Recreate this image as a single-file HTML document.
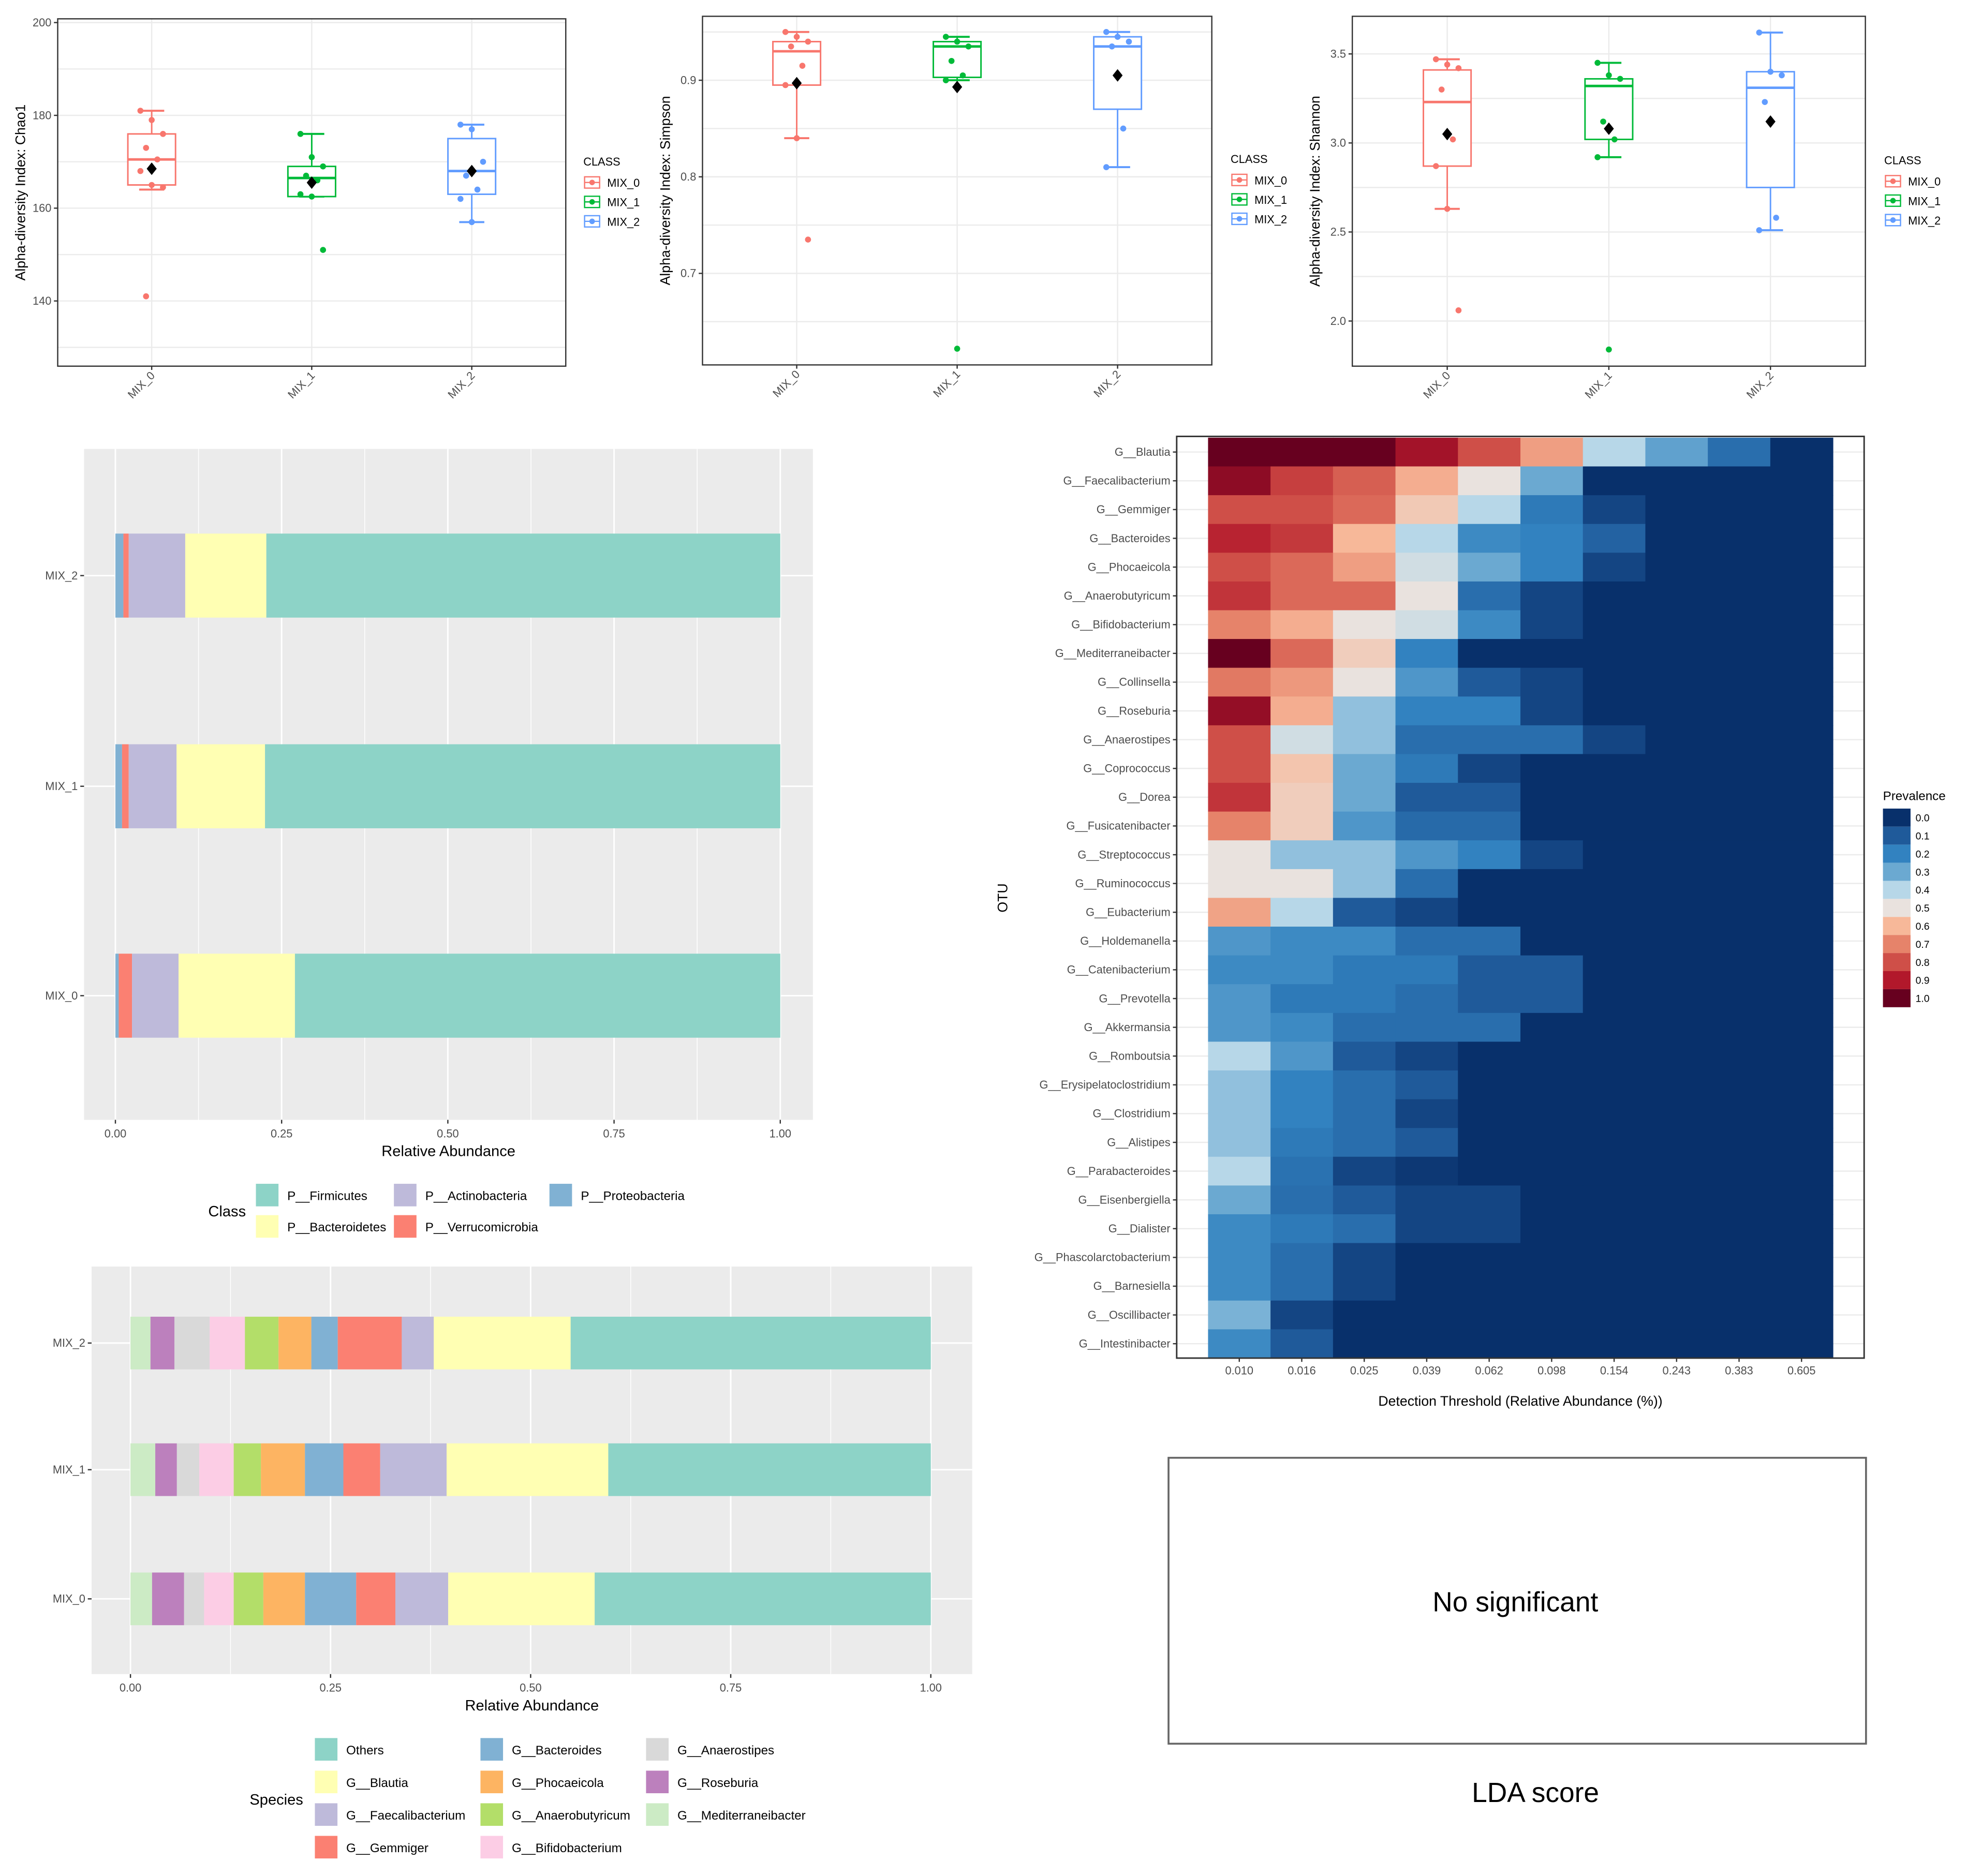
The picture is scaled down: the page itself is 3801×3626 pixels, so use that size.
<!DOCTYPE html>
<html><head><meta charset="utf-8">
<style>
html,body{margin:0;padding:0;background:#fff;}
svg{display:block;font-family:"Liberation Sans",Arial,sans-serif;}
</style></head>
<body>
<svg id="root" xmlns="http://www.w3.org/2000/svg" width="3801" height="3626" viewBox="0 0 1568 1496" preserveAspectRatio="none">
<rect x="0" y="0" width="1568" height="1496" fill="#fff"/>
</svg>
<script>
// ---------- DATA ----------
const groups = ["MIX_0","MIX_1","MIX_2"];
const groupColors = ["#F8766D","#00BA38","#619CFF"];
// [lowWhisker, q1, median, q3, highWhisker, mean]
const chao1Stats = [[164,165,170.5,176,181,168.5],[162.5,162.5,166.5,169,176,165.5],[157,163,168,175,178,168]];
const chao1Points = [[181,179,176,173,170.5,168,165,164.5,141],[176,171,169,167,166,163,162.5,151],[178,177,170,167,164,162,157]];
const chao1Ticks = [140,160,180,200];
const simpsonStats = [[0.84,0.895,0.93,0.94,0.95,0.897],[0.90,0.903,0.935,0.94,0.945,0.893],[0.81,0.87,0.935,0.945,0.95,0.905]];
const simpsonPoints = [[0.95,0.945,0.94,0.935,0.915,0.895,0.84,0.735],[0.945,0.94,0.935,0.92,0.905,0.9,0.622],[0.95,0.945,0.94,0.935,0.85,0.81]];
const simpsonTicks = [0.7,0.8,0.9];
const shannonStats = [[2.63,2.87,3.23,3.41,3.47,3.05],[2.92,3.02,3.32,3.36,3.45,3.08],[2.51,2.75,3.31,3.40,3.62,3.12]];
const shannonPoints = [[3.47,3.44,3.42,3.3,3.02,2.87,2.63,2.06],[3.45,3.38,3.36,3.12,3.02,2.92,1.84],[3.62,3.4,3.38,3.23,2.58,2.51]];
const shannonTicks = [2.0,2.5,3.0,3.5];

const barGroups = ["MIX_0","MIX_1","MIX_2"];
const phylumNames = ["P__Proteobacteria","P__Verrucomicrobia","P__Actinobacteria","P__Bacteroidetes","P__Firmicutes"];
const phylumColors = ["#80B1D3","#FB8072","#BEBADA","#FFFFB3","#8DD3C7"];
const phylumValues = [[0.005,0.02,0.07,0.175,0.73],[0.01,0.01,0.072,0.133,0.775],[0.012,0.008,0.085,0.122,0.773]];
const abundTicks = [0,0.25,0.5,0.75,1];
const abundTickLabels = ["0.00","0.25","0.50","0.75","1.00"];

const speciesNames = ["G__Mediterraneibacter","G__Roseburia","G__Anaerostipes","G__Bifidobacterium","G__Anaerobutyricum","G__Phocaeicola","G__Bacteroides","G__Gemmiger","G__Faecalibacterium","G__Blautia","Others"];
const speciesColors = ["#CCEBC5","#BC80BD","#D9D9D9","#FCCDE5","#B3DE69","#FDB462","#80B1D3","#FB8072","#BEBADA","#FFFFB3","#8DD3C7"];
const speciesValues = [
 [0.027,0.040,0.025,0.037,0.037,0.052,0.064,0.049,0.066,0.183,0.42],
 [0.031,0.027,0.028,0.043,0.034,0.055,0.048,0.046,0.083,0.202,0.403],
 [0.025,0.030,0.044,0.044,0.042,0.041,0.033,0.080,0.040,0.171,0.45]];

const otuNames = ["G__Blautia","G__Faecalibacterium","G__Gemmiger","G__Bacteroides","G__Phocaeicola","G__Anaerobutyricum","G__Bifidobacterium","G__Mediterraneibacter","G__Collinsella","G__Roseburia","G__Anaerostipes","G__Coprococcus","G__Dorea","G__Fusicatenibacter","G__Streptococcus","G__Ruminococcus","G__Eubacterium","G__Holdemanella","G__Catenibacterium","G__Prevotella","G__Akkermansia","G__Romboutsia","G__Erysipelatoclostridium","G__Clostridium","G__Alistipes","G__Parabacteroides","G__Eisenbergiella","G__Dialister","G__Phascolarctobacterium","G__Barnesiella","G__Oscillibacter","G__Intestinibacter"];
const thresholdLabels = ["0.010","0.016","0.025","0.039","0.062","0.098","0.154","0.243","0.383","0.605"];
const prevalence = [
 [1,1,1,0.92,0.8,0.65,0.4,0.28,0.15,0],
 [0.95,0.83,0.77,0.62,0.5,0.3,0,0,0,0],
 [0.8,0.8,0.75,0.56,0.4,0.18,0.05,0,0,0],
 [0.88,0.84,0.6,0.4,0.22,0.2,0.12,0,0,0],
 [0.8,0.75,0.65,0.45,0.3,0.2,0.05,0,0,0],
 [0.85,0.75,0.75,0.5,0.15,0.05,0,0,0,0],
 [0.7,0.62,0.5,0.45,0.22,0.05,0,0,0,0],
 [1,0.75,0.55,0.2,0,0,0,0,0,0],
 [0.72,0.66,0.5,0.25,0.1,0.05,0,0,0,0],
 [0.94,0.62,0.35,0.2,0.2,0.05,0,0,0,0],
 [0.8,0.45,0.35,0.15,0.15,0.15,0.05,0,0,0],
 [0.8,0.57,0.3,0.18,0.05,0,0,0,0,0],
 [0.85,0.55,0.3,0.1,0.1,0,0,0,0,0],
 [0.7,0.55,0.25,0.14,0.14,0,0,0,0,0],
 [0.5,0.35,0.35,0.25,0.2,0.05,0,0,0,0],
 [0.5,0.5,0.35,0.15,0,0,0,0,0,0],
 [0.64,0.4,0.1,0.05,0,0,0,0,0,0],
 [0.25,0.22,0.22,0.15,0.15,0,0,0,0,0],
 [0.22,0.22,0.18,0.18,0.1,0.1,0,0,0,0],
 [0.25,0.18,0.18,0.15,0.1,0.1,0,0,0,0],
 [0.25,0.22,0.15,0.15,0.15,0,0,0,0,0],
 [0.4,0.25,0.1,0.05,0,0,0,0,0,0],
 [0.35,0.2,0.15,0.1,0,0,0,0,0,0],
 [0.35,0.2,0.15,0.05,0,0,0,0,0,0],
 [0.35,0.18,0.15,0.1,0,0,0,0,0,0],
 [0.4,0.16,0.05,0.02,0,0,0,0,0,0],
 [0.3,0.15,0.1,0.05,0.05,0,0,0,0,0],
 [0.22,0.18,0.15,0.05,0.05,0,0,0,0,0],
 [0.22,0.15,0.05,0,0,0,0,0,0,0],
 [0.22,0.15,0.05,0,0,0,0,0,0,0],
 [0.32,0.05,0,0,0,0,0,0,0,0],
 [0.22,0.1,0,0,0,0,0,0,0,0]];
const prevTicks = [0,0.1,0.2,0.3,0.4,0.5,0.6,0.7,0.8,0.9,1.0];

// ---------- HELPERS ----------
const NS = "http://www.w3.org/2000/svg";
const root = document.getElementById('root');
function mk(tag, attrs, parent, text){
  const e = document.createElementNS(NS, tag);
  for (const k in attrs) e.setAttribute(k, attrs[k]);
  if (text !== undefined) e.textContent = text;
  (parent || root).appendChild(e);
  return e;
}
function lin(d0,d1,r0,r1){ return v => r0 + (v-d0)/(d1-d0)*(r1-r0); }
const stops = ["#08306B","#1F5A9A","#3282C0","#6BA9D1","#B7D7E8","#E9E2DE","#F7B899","#E6836A","#CF4F48","#B2182B","#67001F"];
function hex2rgb(h){ return [parseInt(h.substr(1,2),16),parseInt(h.substr(3,2),16),parseInt(h.substr(5,2),16)]; }
function prevColor(v){
  v = Math.max(0, Math.min(1, v));
  const t = v*10, i = Math.min(9, Math.floor(t)), f = t - i;
  const a = hex2rgb(stops[i]), b = hex2rgb(stops[i+1]);
  return "rgb(" + a.map((c,k)=>Math.round(c+(b[k]-c)*f)).join(",") + ")";
}

// ---------- BOX PLOTS ----------
function boxPanel(cfg){
  const g = mk('g', {});
  
  
  const y = lin(cfg.ref[0], cfg.ref[1], cfg.ref[2], cfg.ref[3]);
  const xs = [cfg.x0 + (cfg.x1-cfg.x0)*0.185, cfg.x0 + (cfg.x1-cfg.x0)*0.5, cfg.x0 + (cfg.x1-cfg.x0)*0.815];
  mk('rect', {x:cfg.x0, y:cfg.y0, width:cfg.x1-cfg.x0, height:cfg.y1-cfg.y0, fill:'#fff'}, g);
  // grid: major + minor
  const step = cfg.ticks[1]-cfg.ticks[0];
  for (let v = cfg.ticks[0]-step*2; v <= cfg.ticks[cfg.ticks.length-1]+step*2; v += step/2){
    const yy = y(v);
    if (yy < cfg.y0+1 || yy > cfg.y1-1) continue;
    const gl = mk('line', {x1:cfg.x0, x2:cfg.x1, y1:yy, y2:yy, stroke:'#ebebeb', 'stroke-width':1}, g);
    
  }
  xs.forEach(xx => mk('line', {x1:xx, x2:xx, y1:cfg.y0, y2:cfg.y1, stroke:'#ebebeb', 'stroke-width':1}, g));
  // boxes
  cfg.stats.forEach((s, i) => {
    const c = groupColors[i], cx = xs[i], w = 38;
    const bg = mk('g', {}, g);
    
    
    mk('line', {x1:cx, x2:cx, y1:y(s[0]), y2:y(s[4]), stroke:c, 'stroke-width':1.2}, bg);
    mk('line', {x1:cx-10, x2:cx+10, y1:y(s[0]), y2:y(s[0]), stroke:c, 'stroke-width':1.6}, bg);
    mk('line', {x1:cx-10, x2:cx+10, y1:y(s[4]), y2:y(s[4]), stroke:c, 'stroke-width':1.6}, bg);
    mk('rect', {x:cx-w/2, y:y(s[3]), width:w, height:y(s[1])-y(s[3]), fill:'#fff', stroke:c, 'stroke-width':1.2}, bg);
    mk('line', {x1:cx-w/2, x2:cx+w/2, y1:y(s[2]), y2:y(s[2]), stroke:c, 'stroke-width':2}, bg);
    cfg.points[i].forEach((p, j) => {
      const off = ((j*7) % 5 - 2) * 4.5;
      const pt = mk('circle', {cx:cx+off, cy:y(p), r:2.4, fill:c}, bg);
      
    });
    const m = y(s[5]);
    const mean = mk('path', {d:`M${cx} ${m-5}L${cx+4} ${m}L${cx} ${m+5}L${cx-4} ${m}Z`, fill:'#000'}, bg);
    
  });
  mk('rect', {x:cfg.x0, y:cfg.y0, width:cfg.x1-cfg.x0, height:cfg.y1-cfg.y0, fill:'none', stroke:'#333', 'stroke-width':1}, g);
  // y ticks
  cfg.ticks.forEach(v => {
    const yy = y(v);
    mk('line', {x1:cfg.x0-3, x2:cfg.x0, y1:yy, y2:yy, stroke:'#333'}, g);
    const t = mk('text', {x:cfg.x0-5, y:yy+3, 'font-size':9, fill:'#4d4d4d', 'text-anchor':'end'}, g, cfg.fmt(v));
    
  });
  // x ticks
  xs.forEach((xx, i) => {
    mk('line', {x1:xx, x2:xx, y1:cfg.y1, y2:cfg.y1+3, stroke:'#333'}, g);
    const t = mk('text', {x:xx+3, y:cfg.y1+8, 'font-size':9, fill:'#4d4d4d', 'text-anchor':'end', transform:`rotate(-45 ${xx+3} ${cfg.y1+8})`}, g, groups[i]);
    
  });
  const yt = mk('text', {x:cfg.x0-26, y:(cfg.y0+cfg.y1)/2, 'font-size':11, fill:'#000', 'text-anchor':'middle', transform:`rotate(-90 ${cfg.x0-26} ${(cfg.y0+cfg.y1)/2})`}, g, cfg.title);
  
  // legend
  const lg = mk('g', {}, g);
  
  
  mk('text', {x:cfg.lx, y:cfg.ly, 'font-size':9, fill:'#000'}, lg, 'CLASS');
  groups.forEach((gname, i) => {
    const yy = cfg.ly + 14 + i*15.5;
    const e = mk('g', {}, lg);
    
    
    mk('rect', {x:cfg.lx+1, y:yy-5, width:12, height:9, fill:'#fff', stroke:groupColors[i], 'stroke-width':1}, e);
    mk('line', {x1:cfg.lx+1, x2:cfg.lx+13, y1:yy-0.5, y2:yy-0.5, stroke:groupColors[i]}, e);
    mk('circle', {cx:cfg.lx+7, cy:yy-0.5, r:2.2, fill:groupColors[i]}, e);
    mk('text', {x:cfg.lx+19, y:yy+3, 'font-size':9, fill:'#000'}, e, gname);
  });
}
boxPanel({name:'chao1-boxplot', x0:46, x1:451, y0:15, y1:292, ref:[200,140,18,240], ticks:chao1Ticks, stats:chao1Stats, points:chao1Points, fmt:v=>String(v), title:'Alpha-diversity Index: Chao1', lx:465, ly:132});
boxPanel({name:'simpson-boxplot', x0:560, x1:966, y0:13, y1:291, ref:[0.9,0.7,64,218], ticks:simpsonTicks, stats:simpsonStats, points:simpsonPoints, fmt:v=>v.toFixed(1), title:'Alpha-diversity Index: Simpson', lx:981, ly:130});
boxPanel({name:'shannon-boxplot', x0:1078, x1:1487, y0:13, y1:292, ref:[3.5,2.0,43,256], ticks:shannonTicks, stats:shannonStats, points:shannonPoints, fmt:v=>v.toFixed(1), title:'Alpha-diversity Index: Shannon', lx:1502, ly:131});

// ---------- STACKED BARS ----------
function stackPanel(cfg){
  const g = mk('g', {});
  
  
  mk('rect', {x:cfg.x0, y:cfg.y0, width:cfg.x1-cfg.x0, height:cfg.y1-cfg.y0, fill:'#EBEBEB'}, g);
  const x = lin(0, 1, cfg.a0, cfg.a1);
  // grid
  for (let v = 0; v <= 1.0001; v += 0.125){
    mk('line', {x1:x(v), x2:x(v), y1:cfg.y0, y2:cfg.y1, stroke:'#fff', 'stroke-width': (Math.abs(v*4-Math.round(v*4))<1e-6)?1.2:0.6}, g);
  }
  cfg.centers.forEach(cy => mk('line', {x1:cfg.x0, x2:cfg.x1, y1:cy, y2:cy, stroke:'#fff', 'stroke-width':1.2}, g));
  cfg.values.forEach((row, i) => {
    let acc = 0;
    const cy = cfg.centers[i];
    row.forEach((v, k) => {
      const r = mk('rect', {x:x(acc), y:cy-cfg.bh/2, width:x(acc+v)-x(acc), height:cfg.bh, fill:cfg.colors[k]}, g);
      
      
      acc += v;
    });
    mk('line', {x1:cfg.x0-3, x2:cfg.x0, y1:cy, y2:cy, stroke:'#333'}, g);
    const t = mk('text', {x:cfg.x0-5, y:cy+3, 'font-size':9, fill:'#4d4d4d', 'text-anchor':'end'}, g, barGroups[i]);
    
  });
  abundTicks.forEach((v, i) => {
    mk('line', {x1:x(v), x2:x(v), y1:cfg.y1, y2:cfg.y1+3, stroke:'#333'}, g);
    const t = mk('text', {x:x(v), y:cfg.y1+14, 'font-size':9, fill:'#4d4d4d', 'text-anchor':'middle'}, g, abundTickLabels[i]);
    
  });
  const xt = mk('text', {x:(cfg.x0+cfg.x1)/2, y:cfg.y1+29, 'font-size':12, fill:'#000', 'text-anchor':'middle'}, g, 'Relative Abundance');
  
  const lg = mk('g', {}, g);
  
  
  mk('text', {x:cfg.ltx, y:cfg.lty, 'font-size':12, fill:'#000'}, lg, cfg.legendTitle);
  cfg.legendItems.forEach(it => {
    const k = cfg.names.indexOf(it[0]);
    const e = mk('g', {}, lg);
    
    
    mk('rect', {x:it[1], y:it[2]-9, width:18, height:18, fill:cfg.colors[k]}, e);
    mk('text', {x:it[1]+25, y:it[2]+4, 'font-size':10, fill:'#000'}, e, it[0]);
  });
}
stackPanel({name:'phylum-stacked-bar', x0:67, x1:648, y0:358, y1:893, a0:92, a1:622, centers:[794,627,459], bh:67,
  values:phylumValues, colors:phylumColors, names:phylumNames, legendName:'phylum-legend', legendTitle:'Class', ltx:166, lty:970,
  legendItems:[["P__Firmicutes",204,953],["P__Bacteroidetes",204,978],["P__Actinobacteria",314,953],["P__Verrucomicrobia",314,978],["P__Proteobacteria",438,953]]});
stackPanel({name:'species-stacked-bar', x0:73, x1:775, y0:1010, y1:1335, a0:104, a1:742, centers:[1275,1172,1071], bh:42,
  values:speciesValues, colors:speciesColors, names:speciesNames, legendName:'species-legend', legendTitle:'Species', ltx:199, lty:1439,
  legendItems:[["Others",251,1395],["G__Blautia",251,1421],["G__Faecalibacterium",251,1447],["G__Gemmiger",251,1473],
    ["G__Bacteroides",383,1395],["G__Phocaeicola",383,1421],["G__Anaerobutyricum",383,1447],["G__Bifidobacterium",383,1473],
    ["G__Anaerostipes",515,1395],["G__Roseburia",515,1421],["G__Mediterraneibacter",515,1447]]});

// ---------- HEATMAP ----------
(function(){
  const g = mk('g', {});
  
  
  const hx0 = 963, hx1 = 1461, hy0 = 349, hy1 = 1083;
  mk('rect', {x:938, y:348, width:548, height:735, fill:'#fff'}, g);
  const cw = (hx1-hx0)/thresholdLabels.length, rh = (hy1-hy0)/otuNames.length;
  const colX = lin(0, thresholdLabels.length, hx0, hx1);
  const rowY = lin(0, otuNames.length, hy0, hy1);
  for (let i=0;i<otuNames.length;i++) mk('line', {x1:938,x2:1486,y1:rowY(i+0.5),y2:rowY(i+0.5),stroke:'#ebebeb'}, g);
  prevalence.forEach((row, i) => {
    row.forEach((v, j) => {
      const c = mk('rect', {x:colX(j), y:rowY(i), width:cw+0.4, height:rh+0.4, fill:prevColor(v)}, g);
      
      
    });
    const cy = rowY(i+0.5);
    mk('line', {x1:935, x2:938, y1:cy, y2:cy, stroke:'#333'}, g);
    const t = mk('text', {x:933, y:cy+3, 'font-size':9, fill:'#4d4d4d', 'text-anchor':'end'}, g, otuNames[i]);
    
  });
  mk('rect', {x:938, y:348, width:548, height:735, fill:'none', stroke:'#333', 'stroke-width':1.2}, g);
  thresholdLabels.forEach((l, j) => {
    const cx = colX(j+0.5);
    mk('line', {x1:cx, x2:cx, y1:1083, y2:1086, stroke:'#333'}, g);
    const t = mk('text', {x:cx, y:1096, 'font-size':9, fill:'#4d4d4d', 'text-anchor':'middle'}, g, l);
    
  });
  const xt = mk('text', {x:1212, y:1121, 'font-size':11, fill:'#000', 'text-anchor':'middle'}, g, 'Detection Threshold (Relative Abundance (%))');
  
  const yt = mk('text', {x:803, y:716, 'font-size':11, fill:'#000', 'text-anchor':'middle', transform:'rotate(-90 803 716)'}, g, 'OTU');
  
  const lg = mk('g', {}, g);
  
  
  mk('text', {x:1501, y:638, 'font-size':10, fill:'#000'}, lg, 'Prevalence');
  const ly = lin(0, 1, 652, 796);
  prevTicks.forEach(v => {
    const k = mk('rect', {x:1501, y:ly(v)-7.2, width:22, height:14.4, fill:prevColor(v)}, lg);
    
    mk('text', {x:1527, y:ly(v)+3, 'font-size':8, fill:'#000'}, lg, v.toFixed(1));
  });
})();

// ---------- LDA PANEL ----------
(function(){
  const g = mk('g', {});
  
  
  mk('rect', {x:931.5, y:1162.5, width:556, height:228, fill:'#fff', stroke:'#666', 'stroke-width':1.5}, g);
  const t = mk('text', {x:1208, y:1285, 'font-size':22, fill:'#000', 'text-anchor':'middle'}, g, 'No significant');
  
  const t2 = mk('text', {x:1224, y:1437, 'font-size':22, fill:'#000', 'text-anchor':'middle'}, g, 'LDA score');
  
})();
</script>
</body></html>
